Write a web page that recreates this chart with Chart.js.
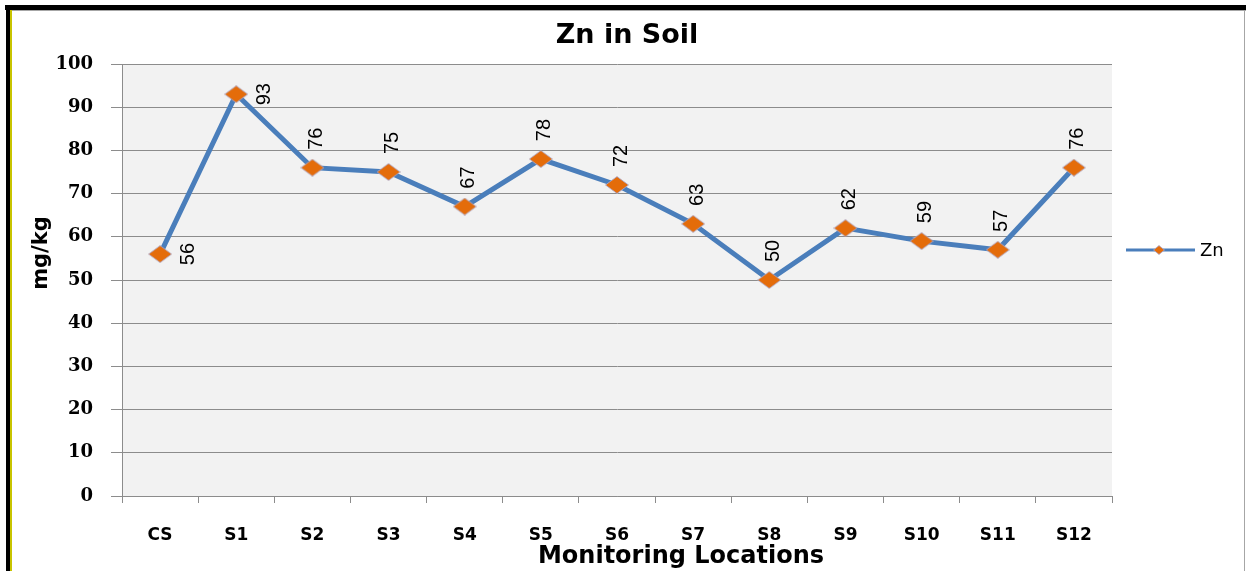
<!DOCTYPE html>
<html>
<head>
<meta charset="utf-8">
<script src="https://cdn.jsdelivr.net/npm/chart.js@4.4.0/dist/chart.umd.min.js"></script>
<style>
    html, body { margin: 0; padding: 0; background: #fff; }
    #wrap { width: 1246px; height: 571px; position: relative; }
</style>
</head>
<body>
<div id="wrap"><canvas id="znChart" width="1246" height="571"></canvas></div>
<script>
// Data
const categories = ['CS', 'S1', 'S2', 'S3', 'S4', 'S5', 'S6', 'S7', 'S8', 'S9', 'S10', 'S11', 'S12'];
const znValues = [56, 93, 76, 75, 67, 78, 72, 63, 50, 62, 59, 57, 76];
const labelSides = ['right', 'right', 'above', 'above', 'above', 'above', 'above', 'above', 'above', 'above', 'above', 'above', 'above'];
const yMin = 0;
const yMax = 100;
const yStep = 10;

const LINE_COLOR = '#4A7EBB';
const MARKER_COLOR = '#E46C0A';

function makeDiamond(w, h) {
    const c = document.createElement('canvas');
    c.width = w;
    c.height = h;
    const g = c.getContext('2d');
    g.beginPath();
    g.moveTo(w / 2, 0.5);
    g.lineTo(w - 0.5, h / 2);
    g.lineTo(w / 2, h - 0.5);
    g.lineTo(0.5, h / 2);
    g.closePath();
    g.fillStyle = MARKER_COLOR;
    g.fill();
    g.strokeStyle = 'rgba(170,170,210,0.8)';
    g.lineWidth = 1;
    g.stroke();
    return c;
}

const marker = makeDiamond(24, 18);
const legendMarker = makeDiamond(12, 10);

// frame, plot background and titles
const framePlugin = {
    id: 'frame',
    beforeDraw(chart) {
        const ctx = chart.ctx;
        const a = chart.chartArea;
        ctx.save();
        ctx.fillStyle = '#F2F2F2';
        ctx.fillRect(a.left, a.top, a.right - a.left, a.bottom - a.top);
        ctx.restore();
    },
    afterDraw(chart) {
        const ctx = chart.ctx;
        ctx.save();
        // outer border
        ctx.fillStyle = '#000';
        ctx.fillRect(5, 5, 1241, 5);
        ctx.fillRect(6, 5, 4, 566);
        ctx.fillStyle = '#C8C400';
        ctx.fillRect(10, 10, 2, 561);
        ctx.fillStyle = '#A6A6A6';
        ctx.fillRect(12, 10, 1234, 1);
        ctx.fillRect(1244, 10, 1, 561);

        ctx.fillStyle = '#000';
        ctx.textAlign = 'center';
        ctx.textBaseline = 'middle';
        ctx.font = 'bold 27px "DejaVu Sans"';
        ctx.fillText('Zn in Soil', 627, 36);

        ctx.textBaseline = 'alphabetic';
        ctx.font = 'bold 24px "DejaVu Sans"';
        ctx.fillText('Monitoring Locations', 681, 563);

        ctx.translate(42, 253);
        ctx.rotate(-Math.PI / 2);
        ctx.textBaseline = 'middle';
        ctx.font = 'bold 21px "DejaVu Sans"';
        ctx.fillText('mg/kg', 0, 0);
        ctx.restore();

        // legend
        ctx.save();
        ctx.strokeStyle = LINE_COLOR;
        ctx.lineWidth = 3;
        ctx.beginPath();
        ctx.moveTo(1126, 250);
        ctx.lineTo(1195, 250);
        ctx.stroke();
        ctx.drawImage(legendMarker, 1159 - 6, 250 - 5);
        ctx.fillStyle = '#000';
        ctx.font = '18px "DejaVu Sans"';
        ctx.textAlign = 'left';
        ctx.textBaseline = 'middle';
        ctx.fillText('Zn', 1200, 251);
        ctx.restore();
    }
};

// rotated value labels
const valueLabels = {
    id: 'valueLabels',
    afterDatasetsDraw(chart) {
        const ctx = chart.ctx;
        const meta = chart.getDatasetMeta(0);
        ctx.save();
        ctx.fillStyle = '#000';
        ctx.font = '20px "Liberation Sans Narrow", "Liberation Sans"';
        ctx.textAlign = 'center';
        ctx.textBaseline = 'middle';
        meta.data.forEach((pt, i) => {
            let x = pt.x + 4;
            let y = pt.y - 29;
            if (labelSides[i] === 'right') {
                x = pt.x + 28;
                y = pt.y;
            }
            ctx.save();
            ctx.translate(x, y);
            ctx.rotate(-Math.PI / 2);
            ctx.fillText(String(znValues[i]), 0, 0);
            ctx.restore();
        });
        ctx.restore();
    }
};

new Chart(document.getElementById('znChart'), {
    type: 'line',
    data: {
        labels: categories,
        datasets: [{
            label: 'Zn',
            data: znValues,
            borderColor: LINE_COLOR,
            borderWidth: 5,
            tension: 0,
            pointStyle: marker,
            pointRadius: 10,
            fill: false
        }]
    },
    options: {
        responsive: false,
        animation: false,
        layout: { padding: { left: 0, top: 64, right: 134, bottom: 0 } },
        plugins: {
            legend: { display: false },
            title: { display: false },
            tooltip: { enabled: false }
        },
        scales: {
            x: {
                offset: true,
                grid: {
                    offset: true,
                    drawOnChartArea: false,
                    drawTicks: true,
                    tickLength: 7,
                    color: '#8C8C8C'
                },
                border: { color: '#8C8C8C', width: 1 },
                ticks: {
                    color: '#000',
                    padding: 22,
                    maxRotation: 0,
                    font: { family: 'DejaVu Sans', weight: 'bold', size: 17 }
                },
                afterFit: s => { s.height = 75; }
            },
            y: {
                min: yMin,
                max: yMax,
                grid: {
                    color: '#8C8C8C',
                    tickLength: 11,
                    lineWidth: 1
                },
                border: { color: '#8C8C8C', width: 1 },
                ticks: {
                    stepSize: yStep,
                    color: '#000',
                    padding: 18,
                    font: { family: 'DejaVu Serif', weight: 'bold', size: 18 }
                },
                afterFit: s => { s.width = 122; }
            }
        }
    },
    plugins: [framePlugin, valueLabels]
});
</script>
</body>
</html>
